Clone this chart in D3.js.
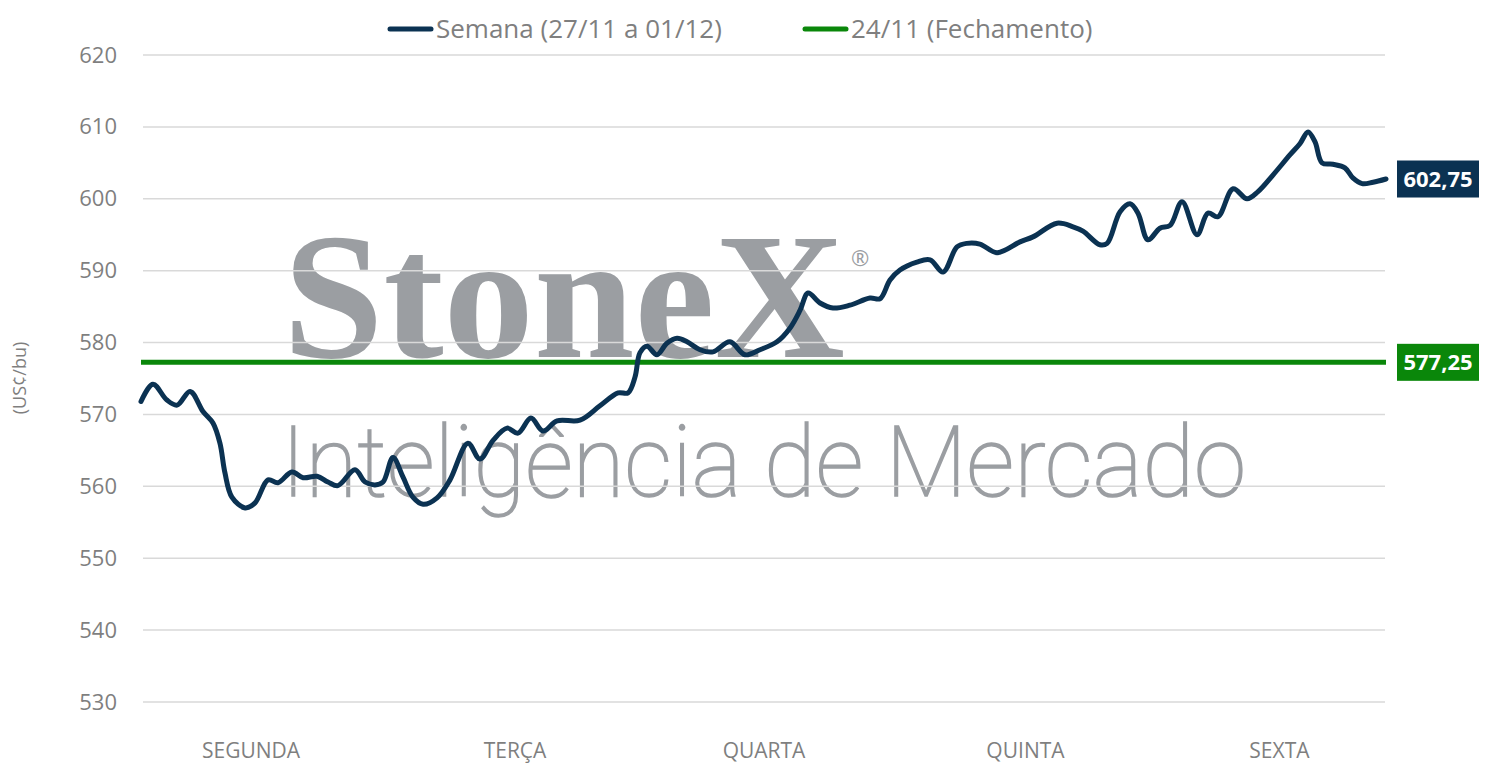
<!DOCTYPE html>
<html><head><meta charset="utf-8">
<script src="https://cdn.jsdelivr.net/npm/d3@7"></script>
<style>body{margin:0;background:#fff}svg{display:block}</style>
</head><body>
<svg id="c" width="1507" height="783"></svg>
<script>
// ---- data ----
const dayLabels = ["SEGUNDA", "TERÇA", "QUARTA", "QUINTA", "SEXTA"];
const dayTickAt = [0.44, 1.5, 2.5, 3.55, 4.57]; // position in days
const yTicks = [530, 540, 550, 560, 570, 580, 590, 600, 610, 620];
const weekTime = [0,0.048,0.104,0.145,0.197,0.249,0.289,0.317,0.337,0.365,0.418,0.458,0.510,0.550,0.606,0.651,0.707,0.751,0.791,0.859,0.900,0.940,0.972,1.012,1.052,1.092,1.133,1.189,1.241,1.313,1.361,1.414,1.470,1.514,1.566,1.614,1.671,1.763,1.843,1.916,1.956,1.984,2.004,2.032,2.072,2.112,2.153,2.193,2.245,2.297,2.365,2.426,2.486,2.554,2.606,2.647,2.679,2.727,2.779,2.847,2.928,2.968,3.008,3.048,3.116,3.169,3.221,3.277,3.317,3.369,3.438,3.530,3.582,3.679,3.743,3.783,3.851,3.880,3.932,3.972,4.004,4.044,4.092,4.133,4.181,4.241,4.285,4.325,4.386,4.442,4.486,4.546,4.614,4.655,4.687,4.715,4.743,4.787,4.835,4.867,4.904,4.948,5.000];
const weekPrice = [571.8,574.2,572.0,571.3,573.2,570.4,568.8,566.0,561.9,558.5,557.0,557.7,560.9,560.5,562.0,561.2,561.4,560.6,560.1,562.3,560.6,560.2,560.6,564.0,561.3,558.5,557.5,558.4,560.9,566.0,563.8,566.4,568.1,567.4,569.5,567.7,569.1,569.2,571.2,573.0,573.0,575.2,578.6,579.5,578.3,579.9,580.6,580.1,579.0,578.7,580.1,578.3,579.0,580.1,582.0,584.5,586.9,585.5,584.8,585.2,586.2,586.1,588.7,590.1,591.2,591.5,589.8,593.3,593.8,593.7,592.5,594.0,594.7,596.6,596.1,595.5,593.6,593.8,598.2,599.3,598.0,594.3,595.9,596.3,599.6,595.0,598.0,597.5,601.4,600.0,601.0,603.3,606.1,607.7,609.3,607.9,605.0,604.8,604.3,602.9,602.1,602.3,602.75];
const closeTime = [0, 5];
const closePrice = [577.25, 577.25];
const seriesNames = ["Semana (27/11 a 01/12)", "24/11 (Fechamento)"];
const seriesColors = ["#0b3252", "#0a870a"];
const yTitle = "(US¢/bu)";

(function () {
// ---- layout ----
const svg = d3.select("#c");
const pLeft = 143, pRight = 1385, pTop = 55, pBottom = 702;
const x = d3.scaleLinear().domain([0, 5]).range([141, 1386]);
const y = d3.scaleLinear().domain([530, 620]).range([pBottom, pTop]);
const fmt = d3.formatLocale({decimal: ",", thousands: ".", grouping: [3], currency: ["", ""]}).format(".2f");
const gray = "#7f7f7f";
const font = "'Open Sans', 'Noto Sans', sans-serif";

// watermark
const wm = svg.append("g").attr("fill", "#9b9ea2");
wm.append("text").attr("x", 283).attr("y", 357)
  .attr("font-family", "'Liberation Serif', 'DejaVu Serif', serif").attr("font-weight", 700)
  .attr("font-size", 181).attr("textLength", 562).attr("lengthAdjust", "spacingAndGlyphs")
  .text("StoneX");
wm.append("text").attr("x", 851).attr("y", 266)
  .attr("font-family", font).attr("font-size", 22).text("®");
wm.append("text").attr("x", 281).attr("y", 496)
  .attr("font-family", "Roboto, 'Open Sans', sans-serif").attr("font-weight", 100)
  .attr("stroke", "#9b9ea2").attr("stroke-width", 1.6)
  .attr("font-size", 98).attr("textLength", 965).attr("lengthAdjust", "spacingAndGlyphs")
  .text("Inteligência de Mercado");

// grid
svg.append("g").selectAll("line").data(yTicks).join("line")
  .attr("x1", pLeft).attr("x2", pRight)
  .attr("y1", d => y(d)).attr("y2", d => y(d))
  .attr("stroke", "#d9d9d9").attr("stroke-width", 1.5);

// y axis labels
const yAxis = svg.append("g").attr("transform", `translate(${pLeft},0)`)
  .call(d3.axisLeft(y).tickValues(yTicks).tickSize(0).tickPadding(26));
yAxis.select(".domain").remove();
yAxis.selectAll("text").attr("font-family", font).attr("font-size", 22).attr("fill", gray);

// x axis labels
const xAxis = svg.append("g").attr("transform", `translate(0,${pBottom})`)
  .call(d3.axisBottom(x).tickValues(dayTickAt).tickFormat((d, i) => dayLabels[i]).tickSize(0).tickPadding(41));
xAxis.select(".domain").remove();
xAxis.selectAll("text").attr("font-family", font).attr("font-size", 21).attr("fill", gray);

// y title
svg.append("text").attr("transform", "translate(26,378) rotate(-90)")
  .attr("text-anchor", "middle").attr("font-family", font).attr("font-size", 18).attr("fill", gray)
  .text(yTitle);

// lines
const line = d3.line().x(d => x(d[0])).y(d => y(d[1])).curve(d3.curveCatmullRom.alpha(0.5));
svg.append("path").datum(closeTime.map((t, i) => [t, closePrice[i]]))
  .attr("d", d3.line().x(d => x(d[0])).y(d => y(d[1])))
  .attr("fill", "none").attr("stroke", seriesColors[1]).attr("stroke-width", 5);
svg.append("path").datum(weekTime.map((t, i) => [t, weekPrice[i]]))
  .attr("d", line).attr("fill", "none").attr("stroke", seriesColors[0])
  .attr("stroke-width", 5).attr("stroke-linejoin", "round").attr("stroke-linecap", "round");

// end labels
const ends = [[weekTime[weekTime.length - 1], weekPrice[weekPrice.length - 1], seriesColors[0]],
              [closeTime[1], closePrice[1], seriesColors[1]]];
ends.forEach(([t, v, c]) => {
  const g = svg.append("g").attr("transform", `translate(${x(t) + 11},${y(v)})`);
  g.append("rect").attr("x", 0).attr("y", -18.5).attr("width", 82).attr("height", 37).attr("fill", c);
  g.append("text").attr("x", 41).attr("y", 8).attr("text-anchor", "middle")
    .attr("font-family", font).attr("font-weight", 700).attr("font-size", 22).attr("fill", "#fff")
    .text(fmt(v));
});

// legend
const legX = [388, 803];
seriesNames.forEach((n, i) => {
  const g = svg.append("g").attr("transform", `translate(${legX[i]},29)`);
  g.append("line").attr("x1", 2).attr("x2", 43).attr("stroke", seriesColors[i])
    .attr("stroke-width", 5).attr("stroke-linecap", "round");
  g.append("text").attr("x", 48).attr("y", 9).attr("font-family", font).attr("font-size", 26)
    .attr("fill", gray).text(n);
});
})();
</script>
</body></html>
